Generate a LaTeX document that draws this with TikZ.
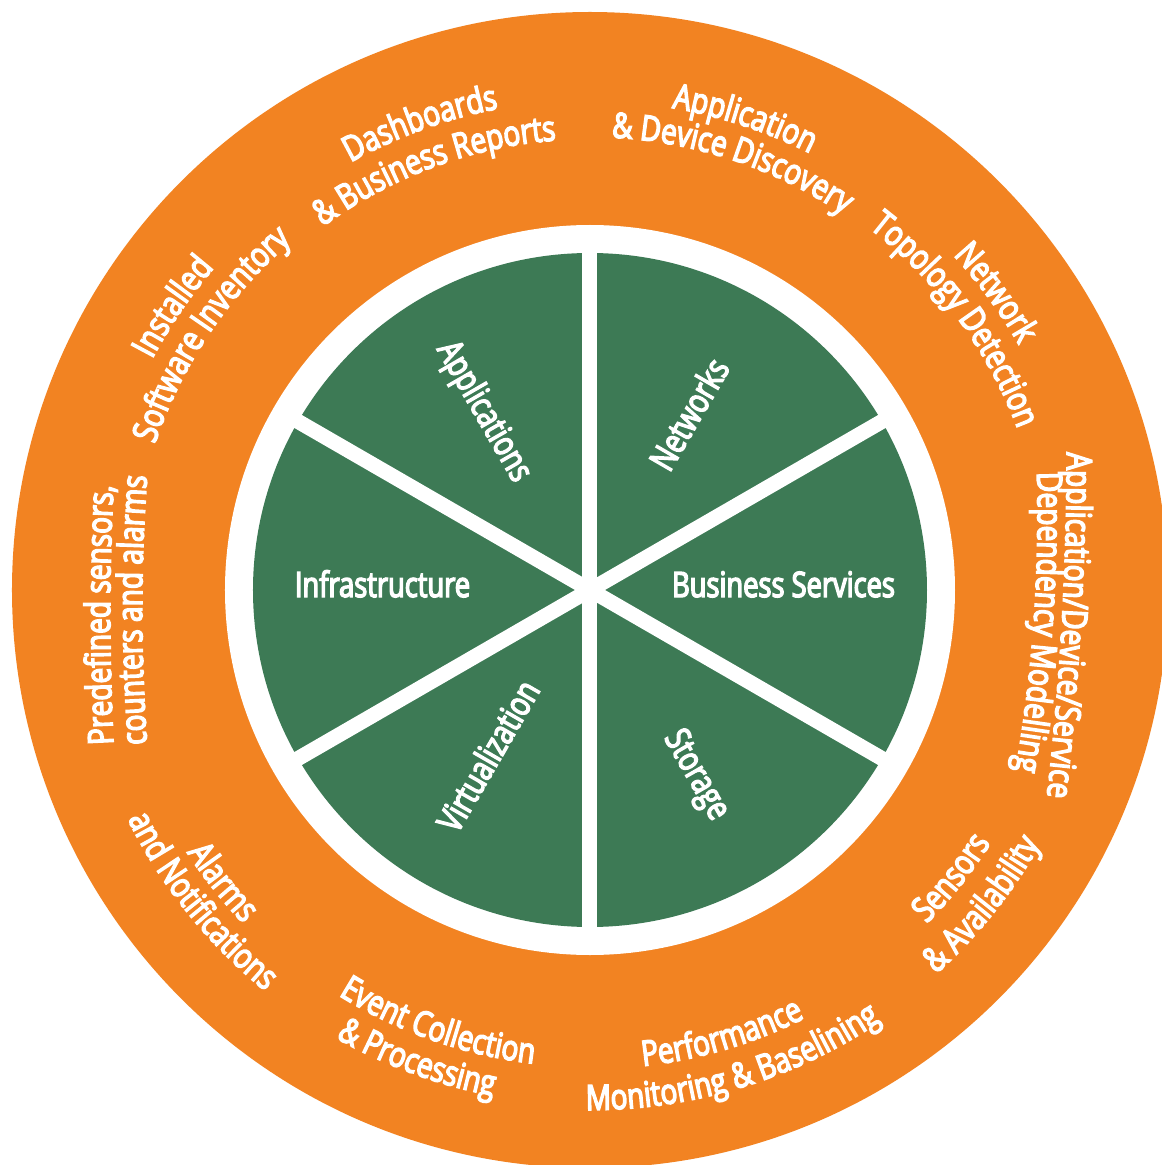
\documentclass[tikz,border=0pt]{standalone}
\usepackage{fontspec}
\font\ringprim="Open Sans:extend=0.8;embolden=4" at 35pt
\font\coreprim="Open Sans:extend=0.78;embolden=4" at 35pt
\definecolor{ringorange}{RGB}{242,131,34}
\definecolor{coregreen}{RGB}{61,122,85}
\tikzset{
  corelabel/.style={font=\coreprim,text=white,inner sep=0pt},
  ringchar/.style={font=\ringprim,text=white,inner sep=0pt,anchor=base},
  divider/.style={white,line width=15pt}
}
\makeatletter
\newdimen\rtw \newdimen\rtcw \newdimen\rtposd
\newcounter{rtch}
% #1,#2 centre of curvature (pt), #3 angle of text middle, #4 radius of baseline,
% #5 = -1 clockwise reading (tops outward), +1 counter-clockwise (tops inward), #6 text (~ for spaces)
\newcommand\ringtext[6]{%
  \global\rtw=0pt\relax
  \@tfor\rtc:=#6\do{\settowidth\rtcw{\ringprim\rtc}\global\advance\rtw by \rtcw}%
  \global\rtposd=-0.5\rtw\relax
  \@tfor\rtc:=#6\do{%
    \settowidth\rtcw{\ringprim\rtc}%
    \pgfmathsetmacro\rtang{#3+(#5)*(\rtposd+0.5*\rtcw)/(#4)*57.29578}%
    \stepcounter{rtch}%
    \node[ringchar,rotate={\rtang+(#5)*90}] (ch\arabic{rtch}) at ([shift={(#1pt,#2pt)}]\rtang:#4pt) {\rtc};%
    \global\advance\rtposd by \rtcw\relax
  }%
}
\makeatother
\begin{document}
\begin{tikzpicture}
\useasboundingbox[fill=white] (-590pt,-575pt) rectangle (572pt,590pt);
\fill[ringorange] (0,0) circle[radius=578pt];
\fill[white] (0,0) circle[radius=365pt];
\fill[coregreen] (0,0) circle[radius=337pt];
\draw[divider] (90:345pt) -- (270:345pt);
\draw[divider] (30:345pt) -- (210:345pt);
\draw[divider] (150:345pt) -- (330:345pt);
% core labels
\node[corelabel,anchor=base] (bs) at (193.5pt,-7pt) {Business Services};
\node[corelabel,anchor=base] (inf) at (-207.5pt,-7pt) {Infrastructure};
\node[corelabel,rotate=60] (net) at (98.7pt,176pt) {Networks};
\node[corelabel,rotate=-60] (app) at (-106.7pt,178pt) {Applications};
\node[corelabel,rotate=-60] (sto) at (105.4pt,-185.7pt) {Storage};
\node[corelabel,rotate=60] (vir) at (-102.2pt,-165.6pt) {Virtualization};
% ring labels, upper half (read clockwise)
\ringtext{0}{0}{110}{490}{-1}{Dashboards}
\ringtext{0}{0}{110.3}{451}{-1}{\&~Business~Reports}
\ringtext{0}{0}{71.8}{489}{-1}{Application}
\ringtext{0}{0}{71.6}{453}{-1}{\&~Device~Discovery}
\ringtext{0}{0}{36.2}{494}{-1}{Network}
\ringtext{0}{0}{36.5}{457}{-1}{Topology~Detection}
\ringtext{0}{0}{145.8}{495}{-1}{Installed}
\ringtext{0}{0}{146}{459}{-1}{Software~Inventory}
\ringtext{-2523}{137.7}{-3.3}{3000}{-1}{Application/Device/Service}
\ringtext{-1012.3}{72.4}{-4.1}{1460}{-1}{Dependency~Modelling}
\ringtext{2020}{-25}{180}{2500}{-1}{Predefined~sensors,}
\ringtext{1352}{-20}{180}{1800}{-1}{counters~and~alarms}
% ring labels, lower half (read counter-clockwise)
\ringtext{0}{0}{-38.5}{474}{1}{Sensors}
\ringtext{0}{0}{-38.7}{517}{1}{\&~Availability}
\ringtext{0}{0}{-73.5}{479}{1}{Performance}
\ringtext{0}{0}{-73.2}{520}{1}{Monitoring~\&~Baselining}
\ringtext{0}{0}{-109.3}{477}{1}{Event~Collection}
\ringtext{0}{0}{-110.2}{515}{1}{\&~Processing}
\ringtext{0}{0}{-141.5}{481}{1}{Alarms}
\ringtext{0}{0}{-141.3}{516}{1}{and~Notifications}
\end{tikzpicture}
\end{document}
